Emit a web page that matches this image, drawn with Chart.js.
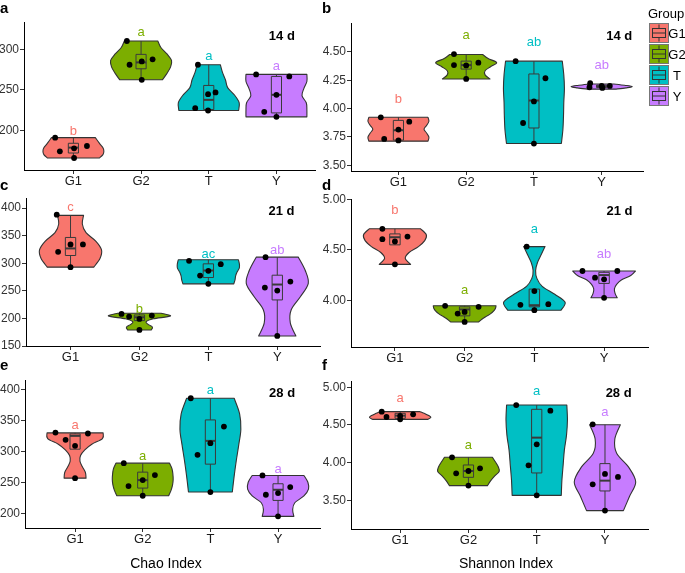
<!DOCTYPE html>
<html><head><meta charset="utf-8">
<script src="https://cdn.jsdelivr.net/npm/chart.js@4.4.1/dist/chart.umd.min.js"></script>
<style>
html,body{margin:0;padding:0;background:#fff;}
body{width:685px;height:573px;position:relative;overflow:hidden;font-family:'Liberation Sans',Arial,sans-serif;}
canvas{position:absolute;}
.t{position:absolute;white-space:nowrap;line-height:1;color:#000;}
.pl{font-weight:bold;font-size:15px;}
.ax{font-size:14px;transform:translateX(-50%);}
.lg{font-size:13px;}
</style></head><body>
<canvas id="pa"></canvas><canvas id="pb"></canvas><canvas id="pc"></canvas>
<canvas id="pd"></canvas><canvas id="pe"></canvas><canvas id="pf"></canvas>
<canvas id="legendKeys"></canvas>
<div class="t pl" style="left:0px;top:0px">a</div>
<div class="t pl" style="left:322px;top:0px">b</div>
<div class="t pl" style="left:0px;top:177px">c</div>
<div class="t pl" style="left:322px;top:177px">d</div>
<div class="t pl" style="left:0px;top:357px">e</div>
<div class="t pl" style="left:322px;top:357px">f</div>
<div class="t ax" style="left:166px;top:556px">Chao Index</div>
<div class="t ax" style="left:506px;top:556px">Shannon Index</div>
<div class="t lg" style="left:648px;top:7px">Group</div>
<div id="legendLabels"></div>
<script>
const FONT = "'Liberation Sans', Arial, sans-serif";
const groups = ['G1', 'G2', 'T', 'Y'];
const groupColors = ['#F8766D', '#7CAE00', '#00BFC4', '#C77CFF'];

// ---- a: Chao index, 14 d ----
const chao14Values = [[190.8,173.8,177.5,180.4,165.5],[310.8,281.3,285.5,288.0,262.6],[281.3,244.8,246.9,227.4,224.5],[269.3,266.8,244.0,222.8,216.6]];
const chao14Jitter = [[-0.27,-0.20,0.01,0.20,0.01],[-0.21,-0.17,0.01,0.17,0.01],[-0.16,-0.01,0.10,-0.20,-0.01],[-0.30,0.19,0,-0.18,0]];
const chao14Box = [[165.5,171.7,178.4,183.8,190.8],[262.6,276.3,284.2,294.2,310.8],[224.5,225.7,237.7,255.6,281.3],[216.6,221.5,244.0,266.8,269.3]];
const chao14Violin = [[0.85,0.97,1.0,0.97,0.88,0.80,0.72],[0.70,0.85,0.97,1.0,0.85,0.65,0.55],[0.98,1.0,0.85,0.62,0.55,0.45,0.38],[1.0,1.0,0.98,0.84,0.90,1.0,1.0]];
const chao14Letters = ['b','a','a','a'];
const chao14LetterY = [198.3,322,291.7,279.7];
const chao14Ticks = [200,250,300];

// ---- b: Shannon index, 14 d ----
const shannon14Values = [[3.923,3.885,3.815,3.733,3.719],[4.48,4.383,4.38,4.404,4.261],[4.418,4.267,4.063,3.873,3.692],[4.223,4.188,4.182,4.2,4.2]];
const shannon14Jitter = [[-0.26,0.16,0,-0.21,0],[-0.18,-0.18,0,0.18,0],[-0.27,0.17,0,-0.16,0],[-0.17,-0.18,0.01,0.12,0]];
const shannon14Box = [[3.713,3.722,3.809,3.896,3.923],[4.261,4.348,4.383,4.418,4.477],[3.692,3.829,4.071,4.305,4.418],[4.171,4.185,4.197,4.207,4.217]];
const shannon14Violin = [[0.97,1.0,0.93,0.84,0.93,1.0,0.97],[0.78,0.62,0.62,0.80,1.0,0.72,0.54],[0.9,0.95,0.97,0.98,1.0,0.98,0.93],[0.45,0.8,1.0,0.75,0.4]];
const shannon14Letters = ['b','a','ab','ab'];
const shannon14LetterY = [4.077,4.646,4.587,4.383];
const shannon14Ticks = [3.50,3.75,4.00,4.25,4.50];

// ---- c: Chao index, 21 d ----
const chao21Values = [[387.9,320.7,334.0,334.0,292.9],[208.1,203.3,199.0,205.1,179.1],[304.4,298.3,286.2,277.7,262.6],[311.0,266.8,250.5,255.9,168.2]];
const chao21Jitter = [[-0.2,-0.18,0,0.18,0],[-0.26,-0.15,0,0.18,0],[-0.28,0.18,0,-0.12,0],[-0.17,0.19,0,-0.18,0]];
const chao21Box = [[292.9,314.0,326.8,346.7,386.7],[179.1,196.0,202.1,206.3,209.3],[262.6,274.1,286.8,298.9,306.2],[168.2,233.5,261.4,278.3,311.0]];
const chao21Violin = [[0.75,0.95,1.0,0.82,0.5,0.38,0.42],[0.38,0.42,0.28,0.22,0.45,1.0,0.7],[0.82,0.86,0.88,0.93,1.0,1.0,0.97],[0.6,0.42,0.45,0.75,1.0,0.9,0.68]];
const chao21Letters = ['c','b','ac','ab'];
const chao21LetterY = [401.8,215.4,315.3,322.5];
const chao21Ticks = [150,200,250,300,350,400];

// ---- d: Shannon index, 21 d ----
const shannon21Values = [[4.708,4.606,4.583,4.632,4.358],[3.949,3.939,3.873,3.889,3.790],[4.533,4.094,3.959,3.965,3.906],[4.292,4.292,4.226,4.210,4.028]];
const shannon21Jitter = [[-0.18,-0.18,0,0.18,0],[-0.28,0.2,-0.1,0,0],[-0.11,0,-0.2,0.2,0],[-0.31,0.19,-0.13,0,0]];
const shannon21Box = [[4.358,4.550,4.625,4.658,4.708],[3.790,3.850,3.913,3.939,3.949],[3.906,3.939,3.955,4.114,4.533],[4.028,4.170,4.252,4.279,4.292]];
const shannon21Violin = [[0.5,0.33,0.45,0.75,0.95,1.0,0.82],[0.45,0.55,0.68,0.82,0.92,0.98,1.0],[0.85,0.98,0.65,0.25,0.08,0.04,0.1,0.22,0.34],[0.42,0.35,0.33,0.4,0.55,0.85,1.0]];
const shannon21Letters = ['b','a','a','ab'];
const shannon21LetterY = [4.889,4.104,4.705,4.457];
const shannon21Ticks = [4.00,4.50,5.00];

// ---- e: Chao index, 28 d ----
const chao28Values = [[331.2,319.4,309.7,329.6,257.5],[281.7,244.6,254.3,262.4,229.0],[386.6,340.9,314.0,295.2,235.0],[261.8,243.0,233.3,230.6,195.7]];
const chao28Jitter = [[-0.29,-0.14,0,0.19,0],[-0.28,-0.21,0,0.18,0],[-0.29,0.2,0,-0.19,0],[-0.23,0.18,0,-0.18,0]];
const chao28Box = [[257.5,304.3,325.8,329.0,330.6],[229.0,241.4,254.3,267.2,281.7],[235.0,280.1,317.7,351.6,386.6],[195.7,221.5,238.7,248.4,261.8]];
const chao28Violin = [[0.36,0.34,0.24,0.16,0.18,0.32,0.55,0.9,0.92],[0.85,0.93,0.98,1.0,0.99,0.96,0.88],[0.72,0.78,0.85,0.93,1.0,0.96,0.78],[0.52,0.48,0.55,0.85,1.0,0.98,0.85]];
const chao28Letters = ['a','a','a','a'];
const chao28LetterY = [342.5,292.5,400,271];
const chao28Ticks = [200,250,300,350,400];

// ---- f: Shannon index, 28 d ----
const shannon28Values = [[4.677,4.606,4.619,4.642,4.575],[4.071,3.858,3.889,3.925,3.695],[4.765,4.690,4.243,3.965,3.566],[4.509,3.810,3.850,3.712,3.363]];
const shannon28Jitter = [[-0.27,-0.2,0,0.19,0],[-0.24,-0.18,0,0.17,0],[-0.3,0.2,0,-0.12,0],[-0.18,0.19,0,-0.18,0]];
const shannon28Box = [[4.575,4.588,4.624,4.655,4.677],[3.695,3.805,3.889,3.969,4.071],[3.566,3.863,4.332,4.708,4.765],[3.363,3.624,3.761,3.987,4.504]];
const shannon28Violin = [[0.9,1.0,0.93,0.8,0.65],[0.62,0.72,0.85,1.0,0.97,0.88,0.78],[0.8,0.82,0.86,0.9,0.97,1.0,0.98],[0.6,0.8,1.0,0.78,0.38,0.32,0.5]];
const shannon28Letters = ['a','a','a','a'];
const shannon28LetterY = [4.854,4.226,4.942,4.668];
const shannon28Ticks = [3.50,4.00,4.50,5.00];

const dayLabels = ['14 d','14 d','21 d','21 d','28 d','28 d'];

// layout of each panel (pixel box of plot area, axis ranges, day-label anchor in data units)
const panels = [
  {id:'pa', area:[24,22,315,170], x:[0.27,4.57], y:[150.6,334.4], dec:0, ticks:chao14Ticks, values:chao14Values, jitter:chao14Jitter, box:chao14Box, violin:chao14Violin, letters:chao14Letters, letterY:chao14LetterY, day:dayLabels[0], dayAt:[4.08,317]},
  {id:'pb', area:[351,23,643,171], x:[0.30,4.61], y:[3.45,4.754], dec:2, ticks:shannon14Ticks, values:shannon14Values, jitter:shannon14Jitter, box:shannon14Box, violin:shannon14Violin, letters:shannon14Letters, letterY:shannon14LetterY, day:dayLabels[1], dayAt:[4.26,4.64]},
  {id:'pc', area:[26,198,320,346], x:[0.354,4.62], y:[150,418.2], dec:0, ticks:chao21Ticks, values:chao21Values, jitter:chao21Jitter, box:chao21Box, violin:chao21Violin, letters:chao21Letters, letterY:chao21LetterY, day:dayLabels[2], dayAt:[4.06,394]},
  {id:'pd', area:[351,199,648,347], x:[0.37,4.63], y:[3.543,5.002], dec:2, ticks:shannon21Ticks, values:shannon21Values, jitter:shannon21Jitter, box:shannon21Box, violin:shannon21Violin, letters:shannon21Letters, letterY:shannon21LetterY, day:dayLabels[3], dayAt:[4.22,4.88]},
  {id:'pe', area:[25,380,320,528], x:[0.26,4.62], y:[176.9,416.1], dec:0, ticks:chao28Ticks, values:chao28Values, jitter:chao28Jitter, box:chao28Box, violin:chao28Violin, letters:chao28Letters, letterY:chao28LetterY, day:dayLabels[4], dayAt:[4.06,394.6]},
  {id:'pf', area:[351,381,648,529], x:[0.28,4.63], y:[3.119,5.084], dec:2, ticks:shannon28Ticks, values:shannon28Values, jitter:shannon28Jitter, box:shannon28Box, violin:shannon28Violin, letters:shannon28Letters, letterY:shannon28LetterY, day:dayLabels[5], dayAt:[4.2,4.92]}
];

function smoothThrough(ctx, pts) {
  for (let i = 0; i < pts.length - 1; i++) {
    const p0 = pts[Math.max(i - 1, 0)], p1 = pts[i], p2 = pts[i + 1], p3 = pts[Math.min(i + 2, pts.length - 1)];
    ctx.bezierCurveTo(p1[0] + (p2[0] - p0[0]) / 6, p1[1] + (p2[1] - p0[1]) / 6,
                      p2[0] - (p3[0] - p1[0]) / 6, p2[1] - (p3[1] - p1[1]) / 6, p2[0], p2[1]);
  }
}

const violinPlugin = {
  id: 'violinLayer',
  beforeDatasetsDraw(chart) {
    const P = chart.$panel, xs = chart.scales.x, ys = chart.scales.y, ctx = chart.ctx;
    P.box.forEach((b, i) => {
      const c = i + 1, w = P.violin[i], n = w.length, lo = b[0], hi = b[4];
      const right = [], left = [];
      for (let k = 0; k < n; k++) {
        const v = lo + (hi - lo) * k / (n - 1);
        right.push([xs.getPixelForValue(c + 0.45 * w[k]), ys.getPixelForValue(v)]);
        left.push([xs.getPixelForValue(c - 0.45 * w[k]), ys.getPixelForValue(v)]);
      }
      ctx.save();
      ctx.beginPath();
      ctx.moveTo(left[0][0], left[0][1]);
      ctx.lineTo(right[0][0], right[0][1]);
      smoothThrough(ctx, right);
      ctx.lineTo(left[n - 1][0], left[n - 1][1]);
      smoothThrough(ctx, left.slice().reverse());
      ctx.closePath();
      ctx.fillStyle = groupColors[i];
      ctx.fill();
      ctx.strokeStyle = '#333';
      ctx.lineWidth = 1.1;
      ctx.lineJoin = 'round';
      ctx.stroke();
      // box plot
      const [mn, q1, md, q3, mx] = b, iqr = q3 - q1;
      const wHi = mx <= q3 + 1.5 * iqr ? mx : q3;
      const wLo = mn >= q1 - 1.5 * iqr ? mn : q1;
      const xc = xs.getPixelForValue(c), xl = xs.getPixelForValue(c - 0.075), xr = xs.getPixelForValue(c + 0.075);
      ctx.strokeStyle = '#3a3a3a';
      ctx.lineWidth = 1;
      ctx.beginPath();
      ctx.moveTo(xc, ys.getPixelForValue(q3)); ctx.lineTo(xc, ys.getPixelForValue(wHi));
      ctx.moveTo(xc, ys.getPixelForValue(q1)); ctx.lineTo(xc, ys.getPixelForValue(wLo));
      ctx.stroke();
      ctx.strokeRect(xl, ys.getPixelForValue(q3), xr - xl, ys.getPixelForValue(q1) - ys.getPixelForValue(q3));
      ctx.lineWidth = 2;
      ctx.beginPath();
      ctx.moveTo(xl, ys.getPixelForValue(md)); ctx.lineTo(xr, ys.getPixelForValue(md));
      ctx.stroke();
      ctx.restore();
    });
  },
  afterDatasetsDraw(chart) {
    const P = chart.$panel, xs = chart.scales.x, ys = chart.scales.y, ctx = chart.ctx;
    ctx.save();
    ctx.textAlign = 'center';
    ctx.textBaseline = 'middle';
    ctx.font = '13px ' + FONT;
    P.letters.forEach((s, i) => {
      ctx.fillStyle = groupColors[i];
      ctx.fillText(s, xs.getPixelForValue(i + 1), ys.getPixelForValue(P.letterY[i]));
    });
    ctx.font = 'bold 13px ' + FONT;
    ctx.fillStyle = '#000';
    ctx.fillText(P.day, xs.getPixelForValue(P.dayAt[0]), ys.getPixelForValue(P.dayAt[1]));
    ctx.restore();
  }
};

const YW = 34, XH = 26, PT = 10, PR = 10;
panels.forEach(P => {
  const [L, T, R, B] = P.area;
  const cv = document.getElementById(P.id);
  const w = R - L + YW + PR, h = B - T + PT + XH;
  cv.width = w; cv.height = h;
  cv.style.left = (L - YW) + 'px'; cv.style.top = (T - PT) + 'px';
  cv.style.width = w + 'px'; cv.style.height = h + 'px';
  const datasets = P.values.map((vals, i) => ({
    data: vals.map((v, k) => ({ x: i + 1 + P.jitter[i][k], y: v })),
    pointRadius: 2.9, pointBackgroundColor: '#000', pointBorderWidth: 0, pointBorderColor: '#000'
  }));
  new Chart(cv, {
    type: 'scatter',
    data: { datasets },
    options: {
      responsive: false, animation: false, events: [],
      layout: { padding: { top: PT, right: PR, left: 0, bottom: 0 } },
      plugins: { legend: { display: false }, tooltip: { enabled: false } },
      scales: {
        x: {
          type: 'linear', min: P.x[0], max: P.x[1],
          afterBuildTicks: s => { s.ticks = groups.map((g, i) => ({ value: i + 1 })); },
          afterFit: s => { s.height = XH; },
          ticks: { callback: v => groups[Math.round(v) - 1] || '', font: { family: FONT, size: 13 }, color: '#1a1a1a', padding: 0, autoSkip: false, maxRotation: 0 },
          grid: { display: true, drawOnChartArea: false, drawTicks: true, tickLength: 4, color: '#333', lineWidth: 1 },
          border: { display: true, color: '#000', width: 1 }
        },
        y: {
          type: 'linear', min: P.y[0], max: P.y[1],
          afterBuildTicks: s => { s.ticks = P.ticks.map(v => ({ value: v })); },
          afterFit: s => { s.width = YW; },
          ticks: { callback: v => Number(v).toFixed(P.dec), font: { family: FONT, size: 12 }, color: '#333', padding: 1, autoSkip: false },
          grid: { display: true, drawOnChartArea: false, drawTicks: true, tickLength: 4, color: '#333', lineWidth: 1 },
          border: { display: true, color: '#000', width: 1 }
        }
      }
    },
    plugins: [{ id: 'bindPanel', beforeInit(c) { c.$panel = P; } }, violinPlugin]
  });
});

// legend
(function () {
  const cv = document.getElementById('legendKeys');
  const x0 = 646, y0 = 20, k = 21;
  cv.width = 26; cv.height = 90;
  cv.style.left = x0 + 'px'; cv.style.top = y0 + 'px';
  const ctx = cv.getContext('2d');
  const lbl = document.getElementById('legendLabels');
  groups.forEach((g, i) => {
    const x = 3, y = 3 + i * k, s = 20;
    ctx.fillStyle = groupColors[i];
    ctx.fillRect(x, y, s, s);
    ctx.strokeStyle = '#777'; ctx.lineWidth = 1;
    ctx.strokeRect(x + 0.5, y + 0.5, s - 1, s - 1);
    ctx.strokeStyle = '#333';
    ctx.strokeRect(x + 3.5, y + 5.5, s - 7, 9);
    ctx.beginPath();
    ctx.moveTo(x + 3.5, y + 10); ctx.lineTo(x + s - 3.5, y + 10);
    ctx.moveTo(x + 10, y + 1.5); ctx.lineTo(x + 10, y + 5.5);
    ctx.moveTo(x + 10, y + 14.5); ctx.lineTo(x + 10, y + 18.5);
    ctx.stroke();
    const d = document.createElement('div');
    d.className = 't lg';
    d.textContent = g;
    d.style.left = '677px';
    d.style.transform = 'translateX(-50%)';
    d.style.top = (y0 + y + 10 - 6) + 'px';
    lbl.appendChild(d);
  });
})();
</script>
</body></html>
